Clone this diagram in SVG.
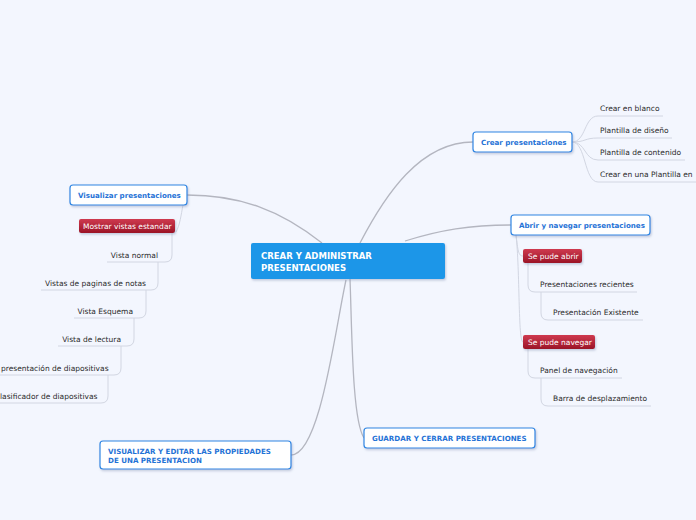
<svg xmlns="http://www.w3.org/2000/svg" width="696" height="520" viewBox="0 0 696 520">
<defs>
<linearGradient id="red" x1="0" y1="0" x2="0" y2="1">
<stop offset="0" stop-color="#cf3a4f"/>
<stop offset="1" stop-color="#9b1527"/>
</linearGradient>
<filter id="sh" x="-10%" y="-30%" width="120%" height="160%">
<feDropShadow dx="1" dy="1.5" stdDeviation="1" flood-color="#8090b0" flood-opacity="0.45"/>
</filter>
</defs>
<style>
.bg{fill:#f3f6fe}
.box{fill:#ffffff;stroke:#2f86e3;stroke-width:1.2;filter:url(#sh)}
.red{fill:url(#red);filter:url(#sh)}
.main{fill:#1a96e8;filter:url(#sh)}
.bt{font-family:"DejaVu Sans",Verdana,sans-serif;font-weight:bold;font-size:7.1px;fill:#1f72d6}
.mt{font-family:"DejaVu Sans",Verdana,sans-serif;font-weight:bold;font-size:8.5px;fill:#ffffff}
.rt{font-family:"DejaVu Sans",Verdana,sans-serif;font-size:7.5px;fill:#ffffff}
.lt{font-family:"DejaVu Sans",Verdana,sans-serif;font-size:7.5px;fill:#2a2a2a}
.c{fill:none;stroke:#b4b6c0;stroke-width:1.3}
.u{fill:none;stroke:#d2d6e2;stroke-width:1}
</style>
<rect class="bg" x="0" y="0" width="696" height="520"/>
<g id="connectors">
<path class="c" d="M360,243 C385,195 420,142 473,142"/>
<path class="c" d="M322,243 C280,210 240,195 187,195"/>
<path class="c" d="M405,241 C440,230 470,225 511,225"/>
<path class="c" d="M350,279 C352,330 352,420 364,438"/>
<path class="c" d="M346,280 C335,330 320,455 291,455"/>
<path class="u" d="M572,142 C586,142 584,116 598,116 L663,116"/>
<path class="u" d="M572,142 C586,142 584,138 598,138 L672,138"/>
<path class="u" d="M572,142 C586,142 584,160 598,160 L685,160"/>
<path class="u" d="M572,142 C586,142 584,182 598,182 L696,182"/>
<path class="u" d="M516,235 C518,250 518,256 523,256"/>
<path class="u" d="M516,235 C520,270 518,342 523,342"/>
<path class="u" d="M528,263 L528,285 Q528,292 535,292 L637,292"/>
<path class="u" d="M541,292 L541,313 Q541,320 548,320 L643,320"/>
<path class="u" d="M528,349 L528,371 Q528,378 535,378 L622,378"/>
<path class="u" d="M541,378 L541,399 Q541,406 548,406 L651,406"/>
<path class="u" d="M183,205 C181,215 180,225 176,232"/>
<path class="u" d="M172,233 L172,255 Q172,262 165,262 L107,262"/>
<path class="u" d="M158,262 L158,283 Q158,290 151,290 L41,290"/>
<path class="u" d="M146,290 L146,311 Q146,318 139,318 L74,318"/>
<path class="u" d="M134,318 L134,339 Q134,346 127,346 L58,346"/>
<path class="u" d="M121,346 L121,368 Q121,375 114,375 L0,375"/>
<path class="u" d="M108,375 L108,396 Q108,403 101,403 L0,403"/>
</g>
<g id="central">
<rect class="main" x="251" y="243" width="194" height="36" rx="2"/>
<text class="mt" x="261" y="259">CREAR Y ADMINISTRAR</text>
<text class="mt" x="261" y="271">PRESENTACIONES</text>
</g>
<g id="crear">
<rect class="box" x="473" y="132" width="99" height="20" rx="3"/>
<text class="bt" x="481" y="144.5">Crear presentaciones</text>
</g>
<g id="crear-blanco"><text class="lt" x="600" y="111">Crear en blanco</text></g>
<g id="plantilla-diseno"><text class="lt" x="600" y="133">Plantilla de diseño</text></g>
<g id="plantilla-contenido"><text class="lt" x="600" y="155">Plantilla de contenido</text></g>
<g id="crear-plantilla"><text class="lt" x="600" y="177">Crear en una Plantilla en</text></g>
<g id="abrir">
<rect class="box" x="511" y="215" width="139" height="20" rx="3"/>
<text class="bt" x="519" y="227.5">Abrir y navegar presentaciones</text>
</g>
<g id="se-pude-abrir">
<rect class="red" x="523" y="249" width="59" height="14" rx="2"/>
<text class="rt" x="528" y="259">Se pude abrir</text>
</g>
<g id="recientes"><text class="lt" x="540" y="287">Presentaciones recientes</text></g>
<g id="existente"><text class="lt" x="553" y="315">Presentación Existente</text></g>
<g id="se-pude-navegar">
<rect class="red" x="523" y="335" width="72" height="14" rx="2"/>
<text class="rt" x="528" y="345">Se pude navegar</text>
</g>
<g id="panel"><text class="lt" x="540" y="373">Panel de navegación</text></g>
<g id="barra"><text class="lt" x="553" y="401">Barra de desplazamiento</text></g>
<g id="visualizar">
<rect class="box" x="70" y="185" width="117" height="20" rx="3"/>
<text class="bt" x="78" y="197.5">Visualizar presentaciones</text>
</g>
<g id="mostrar">
<rect class="red" x="79" y="219" width="96" height="14" rx="2"/>
<text class="rt" x="83" y="229">Mostrar vistas estandar</text>
</g>
<g id="vista-normal"><text class="lt" x="158" y="258" text-anchor="end">Vista normal</text></g>
<g id="vistas-notas"><text class="lt" x="146" y="286" text-anchor="end">Vistas de paginas de notas</text></g>
<g id="vista-esquema"><text class="lt" x="133" y="314" text-anchor="end">Vista Esquema</text></g>
<g id="vista-lectura"><text class="lt" x="121" y="342" text-anchor="end">Vista de lectura</text></g>
<g id="vista-presentacion"><text class="lt" x="1" y="371">presentación de diapositivas</text></g>
<g id="clasificador"><text class="lt" x="0" y="399">lasificador de diapositivas</text></g>
<g id="guardar">
<rect class="box" x="364" y="428" width="171" height="20" rx="3"/>
<text class="bt" x="372" y="441">GUARDAR Y CERRAR PRESENTACIONES</text>
</g>
<g id="propiedades">
<rect class="box" x="100" y="441" width="191" height="28" rx="3"/>
<text class="bt" x="108" y="454">VISUALIZAR Y EDITAR LAS PROPIEDADES</text>
<text class="bt" x="108" y="462.5">DE UNA PRESENTACION</text>
</g>
</svg>
